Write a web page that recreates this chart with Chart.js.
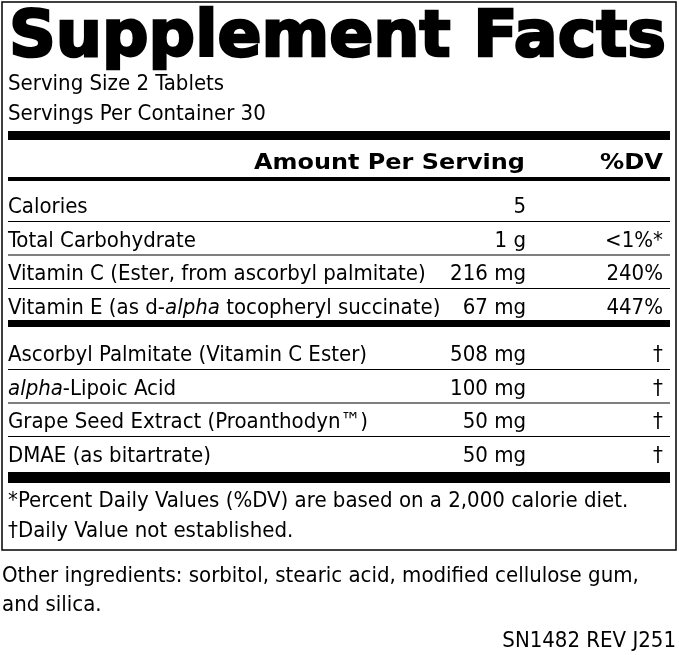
<!DOCTYPE html>
<html><head><meta charset="utf-8">
<script src="https://cdn.jsdelivr.net/npm/chart.js@4"></script>
<style>html,body{margin:0;padding:0;background:#fff}canvas{display:block}</style>
</head><body>
<canvas id="label" width="679" height="655"></canvas>
<script>
// label content (italic parts wrapped in _..._)
const servingLines = ["Serving Size 2 Tablets", "Servings Per Container 30"];
const nutrients = ["Calories", "Total Carbohydrate", "Vitamin C (Ester, from ascorbyl palmitate)", "Vitamin E (as d-_alpha_ tocopheryl succinate)"];
const nutrientAmounts = ["5", "1 g", "216 mg", "67 mg"];
const nutrientDV = ["", "<1%*", "240%", "447%"];
const others = ["Ascorbyl Palmitate (Vitamin C Ester)", "_alpha_-Lipoic Acid", "Grape Seed Extract (Proanthodyn™)", "DMAE (as bitartrate)"];
const otherAmounts = ["508 mg", "100 mg", "50 mg", "50 mg"];
const otherDV = ["†", "†", "†", "†"];
const footnotes = ["*Percent Daily Values (%DV) are based on a 2,000 calorie diet.", "†Daily Value not established."];
const ingredients = ["Other ingredients: sorbitol, stearic acid, modified cellulose gum,", "and silica."];
const code = "SN1482 REV J251";

const BODY = '"Liberation Sans Narrow", "DejaVu Sans Condensed", "Liberation Sans", sans-serif';
const SIZE = 22;

function drawRich(ctx, s, x, y, size) {
  const parts = s.split("_");
  parts.forEach((p, i) => {
    ctx.font = (i % 2 ? "italic " : "") + size + "px " + BODY;
    ctx.fillText(p, x, y);
    x += ctx.measureText(p).width;
  });
}

// draw text squeezed/stretched to a given width, right edge at x
function drawFitRight(ctx, s, x, y, width, font) {
  ctx.font = font;
  const w = ctx.measureText(s).width;
  ctx.save(); ctx.translate(x - width, y); ctx.scale(width / w, 1);
  ctx.textAlign = "left"; ctx.fillText(s, 0, 0); ctx.restore();
}

const labelPlugin = {
  id: "label",
  afterDraw(chart) {
    const ctx = chart.ctx, X = chart.scales.x, Y = chart.scales.y;
    const px = v => X.getPixelForValue(v), py = v => Y.getPixelForValue(v);
    ctx.save();
    ctx.fillStyle = "#000"; ctx.strokeStyle = "#000";
    ctx.textBaseline = "alphabetic";
    const bar = (y, h) => ctx.fillRect(px(8), py(y), px(670) - px(8), h);
    const thin = y => ctx.fillRect(px(8), py(y), px(670) - px(8), 1);
    // box
    ctx.lineWidth = 1.5;
    ctx.strokeRect(px(2), py(2), px(676) - px(2), py(550) - py(2));
    // title
    ctx.lineWidth = 2.5;
    ctx.font = 'bold 64px "DejaVu Sans", sans-serif';
    const t = "Supplement Facts", w = ctx.measureText(t).width;
    ctx.save(); ctx.translate(px(9), py(56)); ctx.scale(657 / w, 1.0);
    ctx.fillText(t, 0, 0); ctx.strokeText(t, 0, 0); ctx.restore();
    servingLines.forEach((s, i) => drawRich(ctx, s, px(8), py(90 + i * 30), SIZE));
    bar(131, 9);
    const hf = 'bold 22px "DejaVu Sans", sans-serif';
    drawFitRight(ctx, "Amount Per Serving", px(525), py(169), 271, hf);
    drawFitRight(ctx, "%DV", px(663), py(169), 63, hf);
    bar(177, 4);
    const rows = (names, amts, dvs, y0) => names.forEach((n, i) => {
      const y = y0 + i * 33.5;
      ctx.textAlign = "left"; drawRich(ctx, n, px(8), py(y), SIZE);
      ctx.textAlign = "right"; ctx.font = SIZE + "px " + BODY;
      ctx.fillText(amts[i], px(526), py(y));
      ctx.fillText(dvs[i], px(663), py(y));
      ctx.textAlign = "left";
      if (i < names.length - 1) thin(y + 8);
    });
    rows(nutrients, nutrientAmounts, nutrientDV, 213);
    bar(320, 7);
    rows(others, otherAmounts, otherDV, 361);
    bar(472, 11);
    footnotes.forEach((s, i) => drawRich(ctx, s, px(8), py(507 + i * 30), SIZE));
    ingredients.forEach((s, i) => drawRich(ctx, s, px(2), py(582 + i * 29), SIZE));
    ctx.textAlign = "right"; ctx.font = SIZE + "px " + BODY;
    ctx.fillText(code, px(676), py(647));
    ctx.restore();
  }
};

new Chart(document.getElementById("label"), {
  type: "scatter",
  data: { datasets: [{ data: [] }] },
  options: {
    responsive: false, animation: false,
    layout: { padding: 0 },
    plugins: { legend: { display: false }, tooltip: { enabled: false } },
    scales: {
      x: { type: "linear", min: 0, max: 679, display: false },
      y: { type: "linear", min: 0, max: 655, reverse: true, display: false }
    }
  },
  plugins: [labelPlugin]
});
</script>
</body></html>
